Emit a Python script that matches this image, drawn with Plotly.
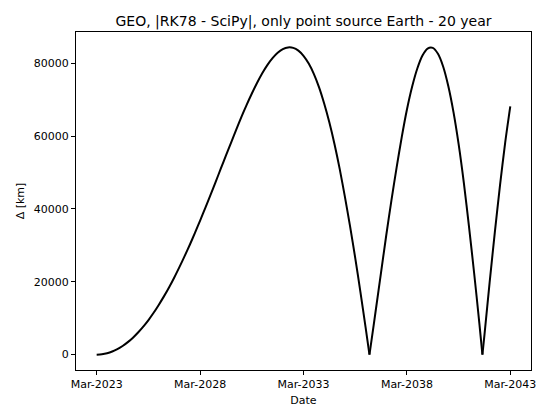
import plotly.graph_objects as go

# Dates (quarterly samples plus the two zero crossings)
dates = [
    "2023-03-01", "2023-06-01", "2023-09-01", "2023-12-01",
    "2024-03-01", "2024-06-01", "2024-09-01", "2024-12-01",
    "2025-03-01", "2025-06-01", "2025-09-01", "2025-12-01",
    "2026-03-01", "2026-06-01", "2026-09-01", "2026-12-01",
    "2027-03-01", "2027-06-01", "2027-09-01", "2027-12-01",
    "2028-03-01", "2028-06-01", "2028-09-01", "2028-12-01",
    "2029-03-01", "2029-06-01", "2029-09-01", "2029-12-01",
    "2030-03-01", "2030-06-01", "2030-09-01", "2030-12-01",
    "2031-03-01", "2031-06-01", "2031-09-01", "2031-12-01",
    "2032-03-01", "2032-06-01", "2032-09-01", "2032-12-01",
    "2033-03-01", "2033-06-01", "2033-09-01", "2033-12-01",
    "2034-03-01", "2034-06-01", "2034-09-01", "2034-12-01",
    "2035-03-01", "2035-06-01", "2035-09-01", "2035-12-01",
    "2036-03-01", "2036-05-09", "2036-06-01", "2036-09-01", "2036-12-01",
    "2037-03-01", "2037-06-01", "2037-09-01", "2037-12-01",
    "2038-03-01", "2038-06-01", "2038-09-01", "2038-12-01",
    "2039-03-01", "2039-06-01", "2039-09-01", "2039-12-01",
    "2040-03-01", "2040-06-01", "2040-09-01", "2040-12-01",
    "2041-03-01", "2041-06-01", "2041-09-01", "2041-10-25", "2041-12-01",
    "2042-03-01", "2042-06-01", "2042-09-01", "2042-12-01",
    "2043-03-01",
]

# Position difference |RK78 - SciPy| in km
delta_km = [
    0, 95, 381, 857,
    1523, 2379, 3426, 4662,
    6087, 7699, 9499, 11482,
    13647, 15989, 18505, 21188,
    24031, 27024, 30158, 33421,
    36796, 40265, 43814, 47415,
    51047, 54680, 58282, 61822,
    65262, 68560, 71676, 74564,
    77174, 79458, 81365, 82843,
    83840, 84302, 84182, 83433,
    82008, 79872, 76989, 73339,
    68904, 63682, 57677, 50914,
    43427, 35267, 26505, 17225,
    7533, 0, 2450, 12590, 22728,
    32697, 42320, 51407, 59760,
    67191, 73496, 78517, 82069,
    83996, 84195, 82573, 79085,
    73724, 66538, 57624, 47139,
    35288, 22337, 8599, 0, 5564,
    19756, 33551, 46505, 58178,
    68142,
]

tick_dates = ["2023-03-01", "2028-03-01", "2033-03-01", "2038-03-01", "2043-03-01"]
tick_labels = ["Mar-2023", "Mar-2028", "Mar-2033", "Mar-2038", "Mar-2043"]
y_ticks = [0, 20000, 40000, 60000, 80000]

font = "DejaVu Sans"

# split the curve at its interior zero crossings so each arc is smooth
# while the cusps stay sharp
cuts = [0] + [i for i in range(1, len(delta_km)) if delta_km[i] == 0] + [len(delta_km) - 1]

fig = go.Figure()
for a, b in zip(cuts[:-1], cuts[1:]):
    fig.add_trace(go.Scatter(
        x=dates[a:b + 1], y=delta_km[a:b + 1], mode="lines",
        line=dict(color="black", width=2, shape="spline", smoothing=0.8),
        showlegend=False, hoverinfo="x+y",
    ))

fig.update_layout(
    width=541, height=412,
    margin=dict(l=76, r=10, t=32, b=42),
    paper_bgcolor="white", plot_bgcolor="white",
    font=dict(family=font, size=11, color="black"),
    title=dict(
        text="GEO, |RK78 - SciPy|, only point source Earth - 20 year",
        x=0.5, xanchor="center", xref="paper",
        y=1, yref="paper", yanchor="bottom", pad=dict(b=6),
        font=dict(family=font, size=14, color="black"),
    ),
)

fig.update_xaxes(
    range=["2022-03-01", "2044-03-01"],
    tickmode="array", tickvals=tick_dates, ticktext=tick_labels,
    ticks="outside", ticklen=4, tickwidth=1, tickcolor="black",
    showline=True, linecolor="black", linewidth=1, mirror=True,
    showgrid=False, zeroline=False, automargin=False,
    title=dict(text="Date", font=dict(family=font, size=11), standoff=6),
    tickfont=dict(family=font, size=11),
)
fig.update_yaxes(
    range=[-4216, 88546],
    tickmode="array", tickvals=y_ticks, ticktext=[str(v) for v in y_ticks],
    ticks="outside", ticklen=4, tickwidth=1, tickcolor="black",
    showline=True, linecolor="black", linewidth=1, mirror=True,
    showgrid=False, zeroline=False, automargin=False,
    title=dict(text="Δ [km]", font=dict(family=font, size=11), standoff=6),
    tickfont=dict(family=font, size=11),
)

fig.write_html("out.html")
